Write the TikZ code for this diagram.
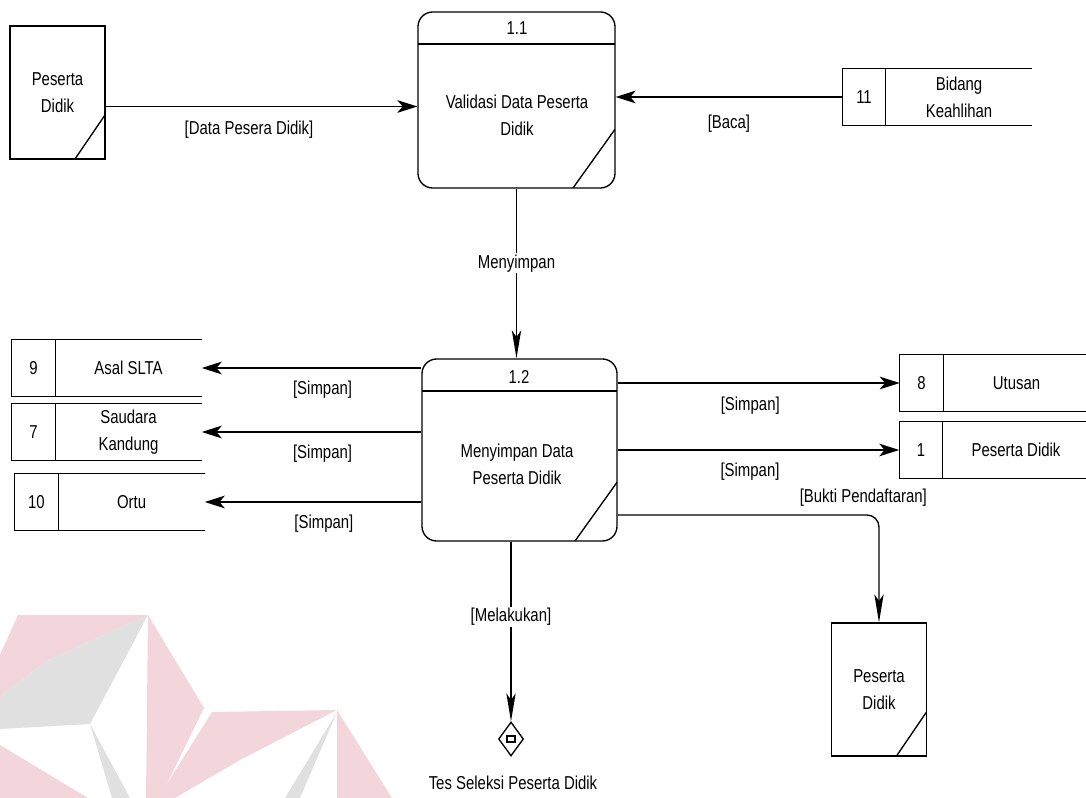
\documentclass[tikz,border=0pt]{standalone}
\usepackage{fontspec}
\setmainfont{Liberation Sans}[FakeStretch=0.8]
\usepackage{tikz}
\usetikzlibrary{positioning,arrows.meta,shapes.geometric}

\definecolor{wmpink}{RGB}{243,214,219}
\definecolor{wmgray}{RGB}{224,224,224}

\tikzset{
  doc/.style={draw, line width=1pt, minimum width=71.25pt, minimum height=99.75pt, align=center,
    path picture={\draw[line width=1pt] ([yshift=33pt]path picture bounding box.south east) -- ([xshift=-22.5pt]path picture bounding box.south east);}},
  process/.style={draw, line width=1pt, rounded corners=11pt,
    path picture={
      \draw[line width=1pt] ([yshift=-24pt]path picture bounding box.north west) -- ([yshift=-24pt]path picture bounding box.north east);
      \draw[line width=1pt] ([yshift=44pt]path picture bounding box.south east) -- ([xshift=-31.5pt]path picture bounding box.south east);}},
  storeid/.style={minimum width=32.25pt, minimum height=42.75pt, inner sep=0pt},
  storename/.style={minimum width=109.5pt, minimum height=42.75pt, inner sep=0pt, align=center},
  flow/.style={line width=1pt, -{Stealth[length=15pt, width=9.5pt, inset=4pt]}},
  flowlong/.style={line width=1pt, -{Stealth[length=21pt, width=7pt, inset=5pt]}},
  lbl/.style={inner sep=1pt}
}

\begin{document}
\begin{tikzpicture}[x=0.75pt, y=-0.75pt, font=\fontsize{14pt}{20pt}\selectfont]
  \useasboundingbox (0,0) rectangle (1086,798);

  % Watermark
  \fill[wmpink] (18,615) -- (148,615) -- (45,662) -- (0,697) -- (0,655) -- cycle;
  \fill[wmgray] (148,615) -- (90,724) -- (0,729) -- (0,697) -- (45,662) -- cycle;
  \fill[wmgray] (90,724) -- (112,798) -- (130,798) -- cycle;
  \fill[wmpink] (148,615) -- (204,708) -- (160,798) -- (146,798) -- cycle;
  \fill[wmpink] (0,745) -- (88,798) -- (0,798) -- cycle;
  \fill[wmpink] (212,712) -- (337,710) -- (240,760) -- (175,798) -- (158,798) -- cycle;
  \fill[wmgray] (337,712) -- (285,798) -- (300,798) -- cycle;
  \fill[wmpink] (337,710) -- (392,798) -- (337,798) -- cycle;

  % Entities
  \node[doc] (pd1) at (57.5,92.5) {Peserta\\Didik};
  \node[doc] (pd2) at (879,689.5) {Peserta\\Didik};

  % Processes
  \node[process, minimum width=147.75pt, minimum height=132pt] (p11) at (516.5,100) {};
  \node (n11) at (517,28) {1.1};
  \node[align=center] (t11) at (517,115) {Validasi Data Peserta\\Didik};
  \node[process, minimum width=146.25pt, minimum height=136.5pt] (p12) at (519.5,450) {};
  \node (n12) at (519,377) {1.2};
  \node[align=center] (t12) at (517,464) {Menyimpan Data\\Peserta Didik};

  % Data stores
  \node[storeid] (s11-id) at (864,97) {11};
  \node[storename, right=0pt of s11-id] (s11) {Bidang\\Keahlihan};
  \node[storeid] (s9-id) at (33.5,368) {9};
  \node[storename, right=0pt of s9-id] (s9) {Asal SLTA};
  \node[storeid] (s7-id) at (33.5,432) {7};
  \node[storename, right=0pt of s7-id] (s7) {Saudara\\Kandung};
  \node[storeid] (s10-id) at (36.5,502) {10};
  \node[storename, right=0pt of s10-id] (s10) {Ortu};
  \node[storeid] (s8-id) at (921.5,383) {8};
  \node[storename, right=0pt of s8-id] (s8) {Utusan};
  \node[storeid] (s1-id) at (921,450) {1};
  \node[storename, right=0pt of s1-id] (s1) {Peserta Didik};
  \foreach \s in {s11,s9,s7,s10,s8,s1} {
    \draw[line width=1pt] (\s.north east) -- (\s-id.north west) -- (\s-id.south west) -- (\s.south east);
    \draw[line width=1pt] (\s-id.north east) -- (\s-id.south east);
  }

  % Tes Seleksi
  \node[diamond, draw, line width=1pt, minimum width=18.75pt, minimum height=25.5pt, inner sep=0pt,
    path picture={\draw[line width=0.8pt] ([shift={(-3pt,-2.25pt)}]path picture bounding box.center) rectangle ([shift={(3pt,2.25pt)}]path picture bounding box.center);}]
    (tes) at (511,739) {};
  \node (teslbl) at (513,783) {Tes Seleksi Peserta Didik};

  % Flows
  \coordinate (pd1out) at ([yshift=-10.5pt]pd1.east);
  \draw[flow] (pd1out) -- (pd1out -| p11.west) node[lbl, below=9pt, pos=0.46] {[Data Pesera Didik]};
  \draw[flow] (s11-id.west) -- (p11.east |- s11-id.west) node[lbl, below=12pt, pos=0.5] {[Baca]};
  \draw[flowlong] (p11.south) -- (p11.south |- p12.north) node[lbl, fill=white, pos=0.44] {Menyimpan};
  \draw[flow] (p12.west |- s9.east) -- (s9.east) node[lbl, below=8pt, pos=0.45] {[Simpan]};
  \draw[flow] (p12.west |- s7.east) -- (s7.east) node[lbl, below=8pt, pos=0.45] {[Simpan]};
  \draw[flow] (p12.west |- s10.east) -- (s10.east) node[lbl, below=8pt, pos=0.45] {[Simpan]};
  \draw[flow] (p12.east |- s8-id.west) -- (s8-id.west) node[lbl, below=9pt, pos=0.47] {[Simpan]};
  \draw[flow] (p12.east |- s1-id.west) -- (s1-id.west) node[lbl, below=8pt, pos=0.47] {[Simpan]};
  \draw[flowlong, rounded corners=9pt] ([yshift=-48.75pt]p12.east) -| (pd2.north) node[lbl, above=5pt, pos=0.47] {[Bukti Pendaftaran]};
  \draw[flowlong] (p12.south -| tes.north) -- (tes.north) node[lbl, fill=white, pos=0.42] {[Melakukan]};
\end{tikzpicture}
\end{document}
